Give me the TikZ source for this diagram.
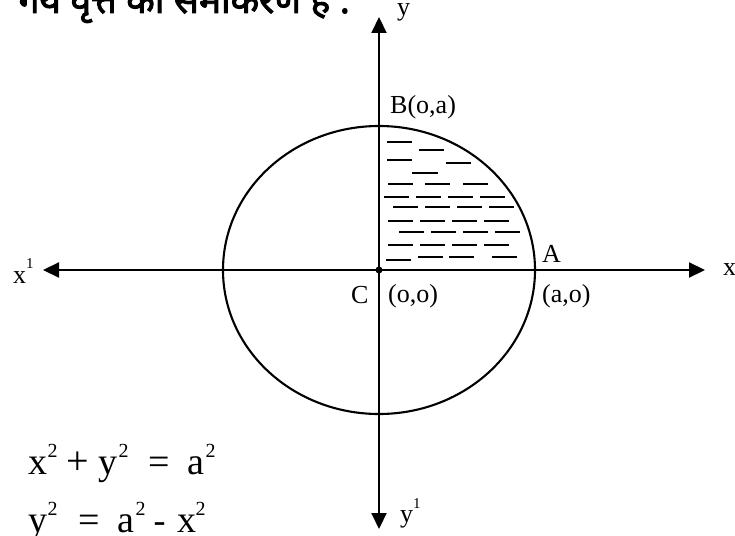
\documentclass[tikz,border=0pt]{standalone}
\usepackage{fontspec}
\setmainfont{Liberation Serif}
\newfontfamily\hindifont[Script=Devanagari, FakeBold=2.5]{Noto Sans}
\usetikzlibrary{arrows.meta}
\newcommand{\supr}[3]{\raisebox{#1pt}{\fontsize{#2}{#2}\selectfont #3}}
\newcommand{\at}[2]{\rlap{\hspace{#1pt}#2}}
\newcommand{\sq}{\raisebox{17pt}{\fontsize{20}{20}\selectfont 2}}
\tikzset{
  axisline/.style={line width=2.1pt, {Triangle[length=16pt,width=15pt]}-{Triangle[length=16pt,width=15pt]}},
  curve/.style={line width=2.1pt},
  hatchline/.style={line width=1.6pt},
  lbl/.style={inner sep=0pt, anchor=base west, font=\fontsize{26}{26}\selectfont},
  eqn/.style={inner sep=0pt, anchor=base west, font=\fontsize{38}{38}\selectfont},
}
\begin{document}
\begin{tikzpicture}[x=1pt,y=-1pt]
\useasboundingbox (0,0) rectangle (735,535);
\clip (0,0) rectangle (735,535);
% heading (cut off at top, as in the reference)
\node[inner sep=0pt, anchor=base east, font=\hindifont\fontsize{37}{37}\selectfont] (head) at (350,13) {गये वृत्त का समीकरण है :};
% axes
\coordinate (xl) at (43,270);
\coordinate (xr) at (705,270);
\coordinate (yt) at (379,17);
\coordinate (yb) at (379,529);
\draw[axisline] (xl) -- (xr);
\draw[axisline] (yt) -- (yb);
% circle
\node[circle, fill, inner sep=0pt, minimum size=7pt] (C) at (379,270) {};
\draw[curve] (C) ellipse [x radius=156pt, y radius=144pt];
% hatching of quadrant
\foreach \y/\a/\b in {
 142/387/412, 150/419/444,
 160/387/412, 163/446/471,
 173/412/438,
 184/388/413, 184/425/450, 184/463/488,
 197/384/409, 197/416/441, 197/448/473, 197/480/505,
 207/393/418, 207/425/450, 207/457/482, 207/489/514,
 221/388/413, 221/420/445, 221/452/477, 221/484/509,
 232/399/424, 232/431/456, 232/463/488, 232/495/520,
 245/388/413, 245/420/445, 245/452/477, 245/484/509,
 257/418/443, 257/449/474, 257/492/517, 260/386/411}
  \draw[hatchline] (\a,\y) -- (\b,\y);
% labels
\node[lbl] (ylab) at (397,16) {y};
\node[lbl] (xllab) at (13,283) {x\supr{15}{15}{1}};
\node[lbl] (xrlab) at (723,275) {x};
\node[lbl] (yblab) at (400,522) {y\supr{14}{15}{1}};
\node[lbl] (B) at (390,113) {B(o,a)};
\node[lbl] (A) at (542,262) {A};
\node[lbl] (Clab) at (351,303) {C};
\node[lbl] (oo) at (388,302) {(o,o)};
\node[lbl] (ao) at (542,302) {(a,o)};
% equations
\node[eqn] (eq1) at (28,474) {\at{0}{x}\at{19}{\sq}\at{38}{\fontsize{40}{40}\selectfont +}\at{70}{y}\at{90}{\sq}\at{120}{=}\at{159}{a}\at{177}{\sq}\hspace{188pt}};
\node[eqn] (eq2) at (28,532) {\at{0}{y}\at{19}{\sq}\at{50}{=}\at{89}{a}\at{107}{\sq}\at{125}{\fontsize{36}{36}\selectfont -}\at{149}{x}\at{167}{\sq}\hspace{180pt}};
\end{tikzpicture}
\end{document}
